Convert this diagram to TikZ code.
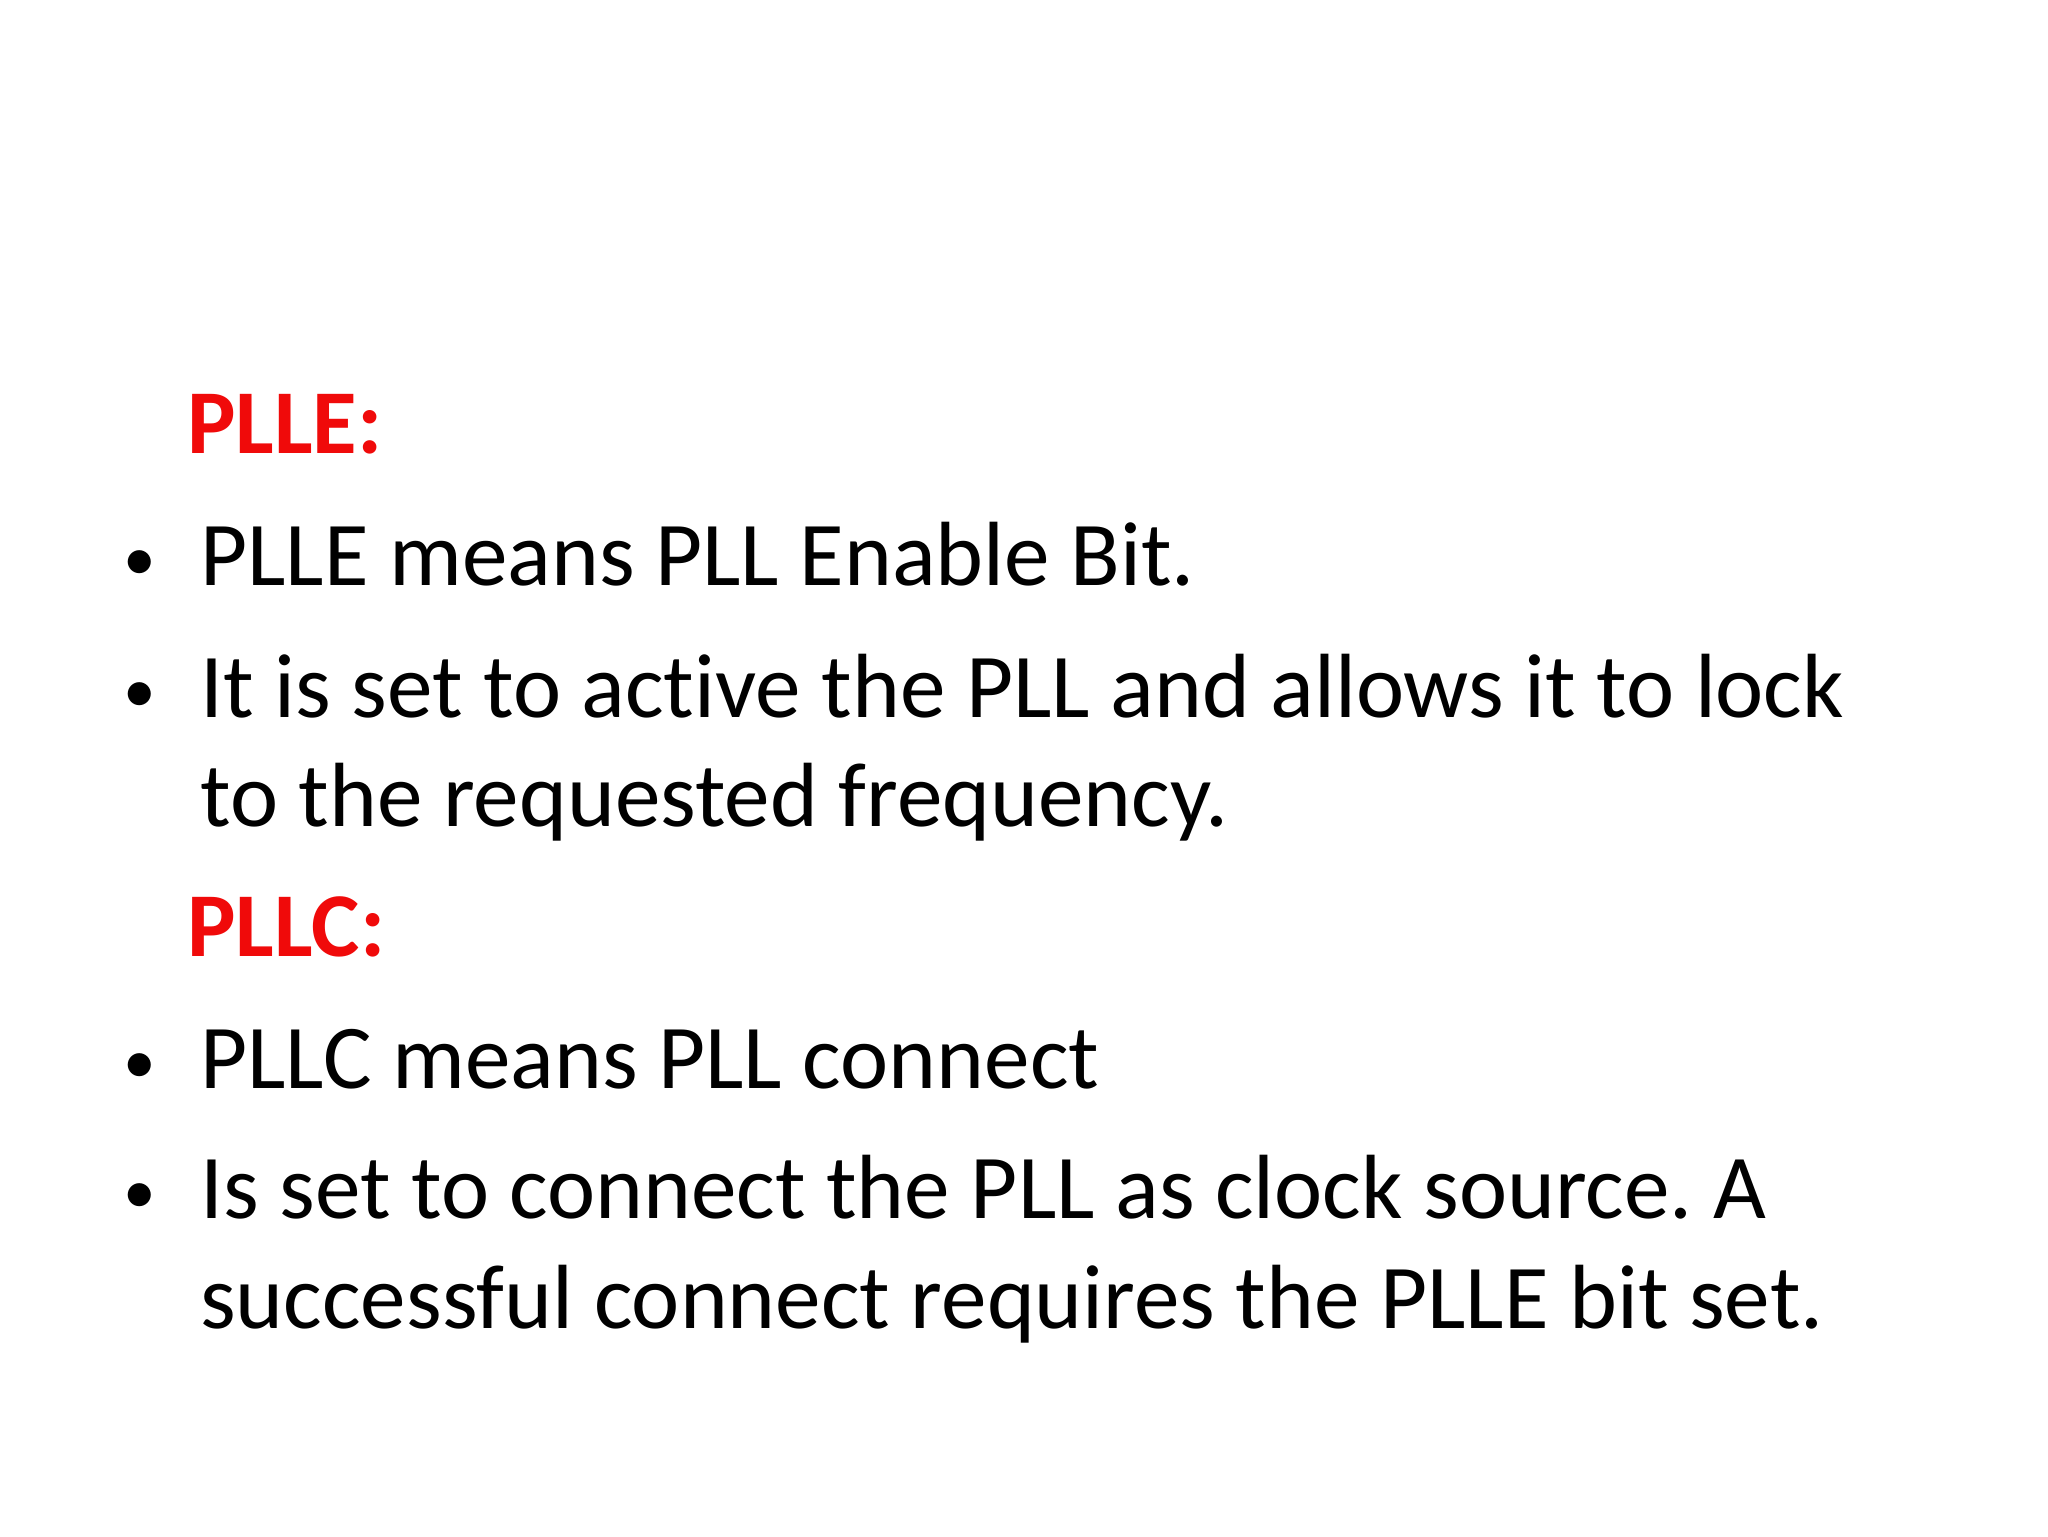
\documentclass[tikz,border=0pt]{standalone}
\usepackage{fontspec}
\setmainfont[Ligatures=NoCommon]{Carlito}
\frenchspacing
\definecolor{hred}{RGB}{240,10,10}
\begin{document}
\begin{tikzpicture}[x=0.6pt,y=-0.6pt,
  txt/.style={anchor=base west,inner sep=0pt,font=\fontsize{41.9}{51}\selectfont},
  head/.style={txt,text=hred,font=\fontsize{41.9}{51}\selectfont\bfseries},
  bul/.style={anchor=center,inner sep=0pt,font=\fontsize{30}{36}\selectfont}]
\useasboundingbox[fill=white] (0,0) rectangle (1568,1176);
\node[head] (h1) at (143,347) {PLLE:};
\node[bul] (b1) at (107,433) {•};
\node[txt] (t1) at (153,448) {PLLE means PLL Enable Bit.};
\node[bul] (b2) at (107,534) {•};
\node[txt] (t2) at (153,549) {It is set to active the PLL and allows it to lock};
\node[txt] (t2b) at (153,633) {to the requested frequency.};
\node[head] (h2) at (143,732) {PLLC:};
\node[bul] (b3) at (107,818) {•};
\node[txt] (t3) at (153,833) {PLLC means PLL connect};
\node[bul] (b4) at (107,918) {•};
\node[txt] (t4) at (153,933) {Is set to connect the PLL as clock source. A};
\node[txt] (t4b) at (153,1017) {successful connect requires the PLLE bit set.};
\end{tikzpicture}
\end{document}
